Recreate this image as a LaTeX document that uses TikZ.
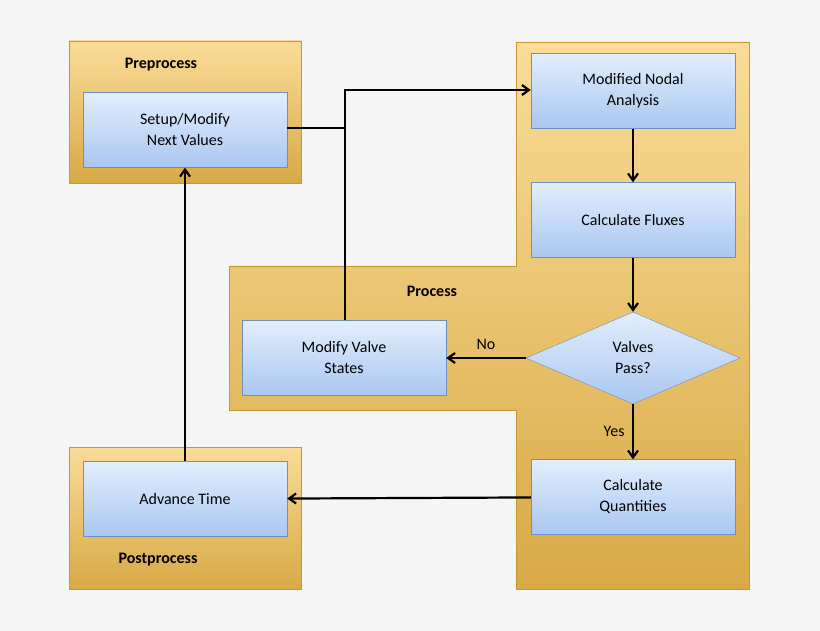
\documentclass[tikz,border=0pt]{standalone}
\usepackage{fontspec}
\setmainfont{Carlito}
\usetikzlibrary{positioning,shapes.geometric,arrows.meta}
\definecolor{bgGray}{HTML}{F5F5F5}
\definecolor{orangeTop}{HTML}{FADC98}
\definecolor{orangeBot}{HTML}{D8A946}
\definecolor{orangeLine}{HTML}{C49A2C}
\definecolor{blueTop}{HTML}{E2EEFD}
\definecolor{blueBot}{HTML}{A9C7F0}
\definecolor{blueLine}{HTML}{6E8FC0}
\begin{document}
\begin{tikzpicture}
[x=1pt,y=-1pt,
  groupDecorate/.style={draw=orangeLine,top color=orangeTop,bottom color=orangeBot},%
  stepDecorate/.style={draw=blueLine,top color=blueTop,bottom color=blueBot,
    minimum width=204pt,minimum height=75pt,align=center,font=\fontsize{16}{21}\selectfont,
    inner sep=0pt},%
  testDecorate/.style={stepDecorate,shape=diamond,aspect=2.3,minimum width=214pt,minimum height=92pt},%
  titleDecorate/.style={font=\fontsize{16}{19}\selectfont\bfseries},%
  flowDecorate/.style={->,line width=2.2pt,>={Straight Barb[length=7pt,width=10pt]}}]
\fill[bgGray] (0,0) rectangle (820,631);
\useasboundingbox (0,0) rectangle (820,631);
%% groups
\path[groupDecorate] (69,41) rectangle (301,183);
\path[groupDecorate] (69,447) rectangle (301,589);
\path[groupDecorate] (516,42) -- (749,42) -- (749,589) -- (516,589) -- (516,410)
  -- (229,410) -- (229,266) -- (516,266) -- cycle;
\node[titleDecorate] (pre) at (161,65) {Preprocess};
\node[titleDecorate] (proc) at (432,291) {Process};
\node[titleDecorate] (post) at (158,560) {Postprocess};
%% steps
\node (setup) at (185,130) [stepDecorate] {Setup/Modify\\Next Values};
\node (mna) at (633,91) [stepDecorate] {Modified Nodal\\Analysis};
\node (flux) at (633,220) [stepDecorate] {Calculate Fluxes};
\node (valves) at (633,358) [testDecorate] {Valves\\Pass?};
\node (modify) at (344,358) [stepDecorate] {Modify Valve\\States};
\node (quant) at (633,497) [stepDecorate] {Calculate\\Quantities};
\node (advance) at (185,499) [stepDecorate] {Advance Time};
\coordinate (join) at (345,128);
\coordinate (top) at (345,90);
%% edges
\draw[line width=2.2pt] (setup.east |- join) -- (join);
\draw[flowDecorate] (modify.north -| join) -- (top) -- (mna.west |- top);
\draw[flowDecorate] (mna) -- (flux);
\draw[flowDecorate] (flux) -- (valves);
\draw[flowDecorate] (valves) -- node[above=4pt,font=\fontsize{16}{19}\selectfont] {No} (modify);
\draw[flowDecorate] (valves) -- node[left=4pt,font=\fontsize{16}{19}\selectfont] {Yes} (quant);
\draw[flowDecorate] (quant) -- (advance);
\draw[flowDecorate] (advance) -- (setup);
\end{tikzpicture}
\end{document}
